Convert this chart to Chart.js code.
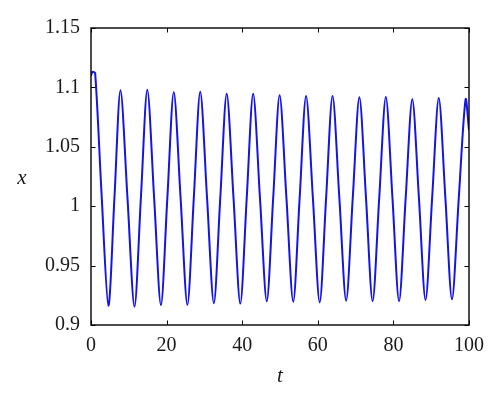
<!DOCTYPE html>
<html>
<head>
<meta charset="utf-8">
<script src="https://cdn.jsdelivr.net/npm/chart.js@4"></script>
<style>
  html, body { margin: 0; padding: 0; background: #fff; }
  #wrap { width: 500px; height: 406px; }
</style>
</head>
<body>
<div id="wrap"><canvas id="c" width="500" height="406"></canvas></div>
<script>
// time samples t
const tValues = [0, 0.4, 1.1, 2.8, 4.6, 6.2, 7.8, 9.65, 11.5, 13.2, 14.9, 16.7, 18.5, 20.2, 21.9, 23.7,
  25.5, 27.2, 28.9, 30.7, 32.5, 34.2, 35.9, 37.7, 39.5, 41.2, 42.9, 44.7, 46.5, 48.2, 49.9, 51.7,
  53.5, 55.2, 56.9, 58.7, 60.5, 62.2, 63.9, 65.7, 67.5, 69.25, 71.0, 72.75, 74.5, 76.25, 78.0, 79.75,
  81.5, 83.25, 85.0, 86.75, 88.5, 90.25, 92.0, 93.75, 95.5, 97.3, 99.1, 100];
// x(t) values
const xValues = [1.110, 1.113, 1.112, 1.010, 0.9163, 1.007, 1.0976, 1.007, 0.9154, 1.007, 1.098, 1.007, 0.9168, 1.007, 1.096, 1.007,
  0.917, 1.007, 1.0964, 1.007, 0.9183, 1.007, 1.0947, 1.007, 0.918, 1.007, 1.0947, 1.007, 0.920, 1.007, 1.0933, 1.007,
  0.9196, 1.007, 1.0928, 1.007, 0.919, 1.007, 1.0928, 1.007, 0.9205, 1.007, 1.0917, 1.007, 0.920, 1.007, 1.092, 1.007,
  0.920, 1.007, 1.090, 1.007, 0.921, 1.007, 1.091, 1.007, 0.9216, 1.007, 1.090, 1.064];
const xTicks = [0, 20, 40, 60, 80, 100];
const yTicks = [0.9, 0.95, 1, 1.05, 1.1, 1.15];

const FONT = "'Liberation Serif', 'DejaVu Serif', serif";

const points = tValues.map((t, i) => ({ x: t, y: xValues[i] }));

const framePlugin = {
  id: 'frame',
  afterDraw(chart) {
    const { ctx, chartArea: a, scales } = chart;
    ctx.save();
    ctx.strokeStyle = '#000';
    ctx.lineWidth = 1.4;
    ctx.strokeRect(a.left, a.top, a.right - a.left, a.bottom - a.top);
    const L = 4.5;
    ctx.lineWidth = 1;
    ctx.beginPath();
    xTicks.forEach(v => {
      const px = Math.round(scales.x.getPixelForValue(v)) + 0.5;
      ctx.moveTo(px, a.bottom); ctx.lineTo(px, a.bottom - L);
      ctx.moveTo(px, a.top); ctx.lineTo(px, a.top + L);
    });
    yTicks.forEach(v => {
      const py = Math.round(scales.y.getPixelForValue(v)) + 0.5;
      ctx.moveTo(a.left, py); ctx.lineTo(a.left + L, py);
      ctx.moveTo(a.right, py); ctx.lineTo(a.right - L, py);
    });
    ctx.stroke();
    // y-axis title (horizontal, italic)
    ctx.fillStyle = '#1a1a1a';
    ctx.font = "italic 21px " + FONT;
    ctx.textAlign = 'center';
    ctx.textBaseline = 'middle';
    ctx.fillText('x', 22, 178);
    ctx.restore();
  }
};

new Chart(document.getElementById('c'), {
  type: 'scatter',
  data: {
    datasets: [{
      data: points,
      showLine: true,
      borderColor: '#1414e6',
      borderWidth: 2,
      pointRadius: 0,
      fill: false,
      tension: 0.3
    }]
  },
  options: {
    responsive: false,
    animation: false,
    devicePixelRatio: 1,
    layout: { padding: { left: 0, top: 28, right: 31, bottom: 0 } },
    plugins: { legend: { display: false }, tooltip: { enabled: false } },
    scales: {
      x: {
        type: 'linear', min: 0, max: 100,
        afterFit(s) { s.height = 81; },
        afterBuildTicks(s) { s.ticks = xTicks.map(v => ({ value: v })); },
        grid: { display: false, drawTicks: false },
        border: { display: false },
        ticks: { color: '#1a1a1a', padding: 9, maxRotation: 0, font: { family: FONT, size: 20 } },
        title: { display: true, text: 't', color: '#1a1a1a', padding: { top: 0, bottom: 17 }, font: { family: FONT, size: 21, style: 'italic' } }
      },
      y: {
        type: 'linear', min: 0.9, max: 1.15,
        afterFit(s) { s.width = 91; },
        afterBuildTicks(s) { s.ticks = yTicks.map(v => ({ value: v })); },
        grid: { display: false, drawTicks: false },
        border: { display: false },
        ticks: { color: '#1a1a1a', padding: 11, font: { family: FONT, size: 20 },
          callback: v => String(v) }
      }
    }
  },
  plugins: [framePlugin]
});
</script>
</body>
</html>
